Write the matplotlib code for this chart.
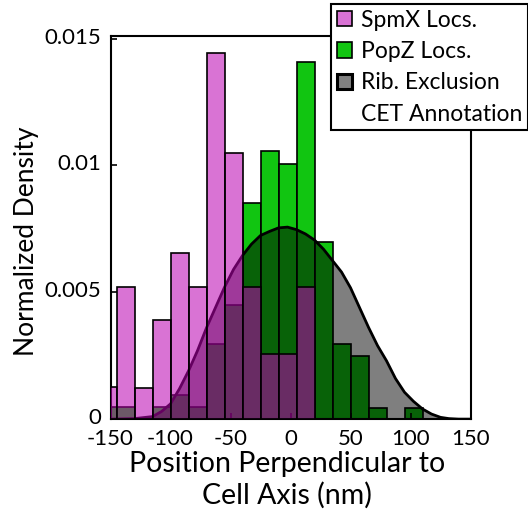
import numpy as np
import matplotlib
matplotlib.use("Agg")
import matplotlib.pyplot as plt
from matplotlib.patches import Patch
from matplotlib.transforms import ScaledTranslation

plt.rcParams['font.family'] = ['Lato', 'DejaVu Sans']
plt.rcParams['axes.unicode_minus'] = False

# histogram bins (nm), 15 nm wide
bin_edges = np.arange(-160, 126, 15)
bin_left = bin_edges[:-1]

# SpmX localisations (normalized density per bin)
spmx = [0.00125, 0.0052, 0.00123, 0.00391, 0.00654, 0.0052, 0.01444, 0.01049,
        0.0052, 0.00257, 0.00257, 0.0052, 0, 0, 0, 0, 0, 0, 0]
# PopZ localisations
popz = [0.00047, 0.00047, 0, 0.00047, 0.00095, 0.00047, 0.00297, 0.00448,
        0.00853, 0.01056, 0.01004, 0.01408, 0.0070, 0.00297, 0.00247, 0.00044,
        0, 0.00044, 0]

# ribosome exclusion profile from CET annotation
rib_x = [-150, -130, -115, -107.5, -100, -92.5, -85, -77.5, -70, -62.5, -55, -47.5,
         -40, -32.5, -25, -17.5, -10, -2.5, 5, 12.5, 20, 27.5, 35, 42.5, 50, 57.5,
         65, 72.5, 80, 87.5, 95, 102.5, 110, 117.5, 125, 132, 140, 150]
rib_y = [0, 0.00002, 0.0001, 0.0003, 0.0006, 0.0012, 0.0019, 0.0027, 0.0036, 0.0044,
         0.0052, 0.0059, 0.00645, 0.0069, 0.00724, 0.0074, 0.00754, 0.00757, 0.00747,
         0.0073, 0.00706, 0.0067, 0.00625, 0.0058, 0.00518, 0.0044, 0.00362, 0.0029,
         0.0023, 0.0016, 0.00106, 0.0007, 0.0004, 0.0002, 0.00007, 0.00002, 0, 0]

pink = (186/255, 0, 177/255, 0.55)
green = (17/255, 197/255, 17/255)

fig = plt.figure(figsize=(5.28, 5.2), dpi=100)
ax = fig.add_axes([0.2093, 0.194, 0.6818, 0.7365])

ax.bar(bin_left, popz, width=15, align='edge', color=green,
       edgecolor='black', linewidth=1.2, zorder=1)
ax.fill_between(rib_x, rib_y, 0, color=(0, 0, 0, 0.5), linewidth=0, zorder=2)
ax.plot(rib_x, rib_y, color='black', linewidth=2, zorder=3)
ax.bar(bin_left, spmx, width=15, align='edge', color=pink,
       edgecolor='black', linewidth=1.2, zorder=4)

ax.set_xlim(-150, 150)
ax.set_ylim(0, 0.0151)
ax.set_xticks([-150, -100, -50, 0, 50, 100, 150])
ax.set_xticklabels(['-150', '-100', '-50', '0', '50', '100', '150'])
ax.set_yticks([0, 0.005, 0.01, 0.015])
ax.set_yticklabels(['0', '0.005', '0.01', '0.015'])
ax.tick_params(direction='in', length=4, width=1.2, labelsize=16, pad=7)
for s in ax.spines.values():
    s.set_linewidth(1.5)
# y labels sit a little above their ticks
for lab in ax.get_yticklabels():
    lab.set_transform(lab.get_transform() + ScaledTranslation(0, 3/100, fig.dpi_scale_trans))

ax.set_xlabel('Position Perpendicular to\nCell Axis (nm)', fontsize=20.5, linespacing=1.25)
ax.set_ylabel('Normalized Density', fontsize=19)
ax.xaxis.set_label_coords(0.49, -0.082)
ax.yaxis.set_label_coords(-0.2, 0.465)

handles = [Patch(facecolor='#D972D4', edgecolor='black', linewidth=1.2),
           Patch(facecolor='#11C511', edgecolor='black', linewidth=1.2),
           Patch(facecolor='#808080', edgecolor='black', linewidth=2.2),
           Patch(facecolor='none', edgecolor='none')]
labels = ['SpmX Locs.', 'PopZ Locs.', 'Rib. Exclusion', 'CET Annotation']
leg = fig.legend(handles, labels, loc='upper left', bbox_to_anchor=(331/528, 1 - 4/520),
                 fontsize=16.5, frameon=True, fancybox=False, framealpha=1,
                 edgecolor='black', handlelength=0.65, handleheight=0.65,
                 handletextpad=0.4, borderpad=0.25, labelspacing=0.45, borderaxespad=0)
leg.get_frame().set_linewidth(1.5)

fig.savefig('out.png', dpi=100)
